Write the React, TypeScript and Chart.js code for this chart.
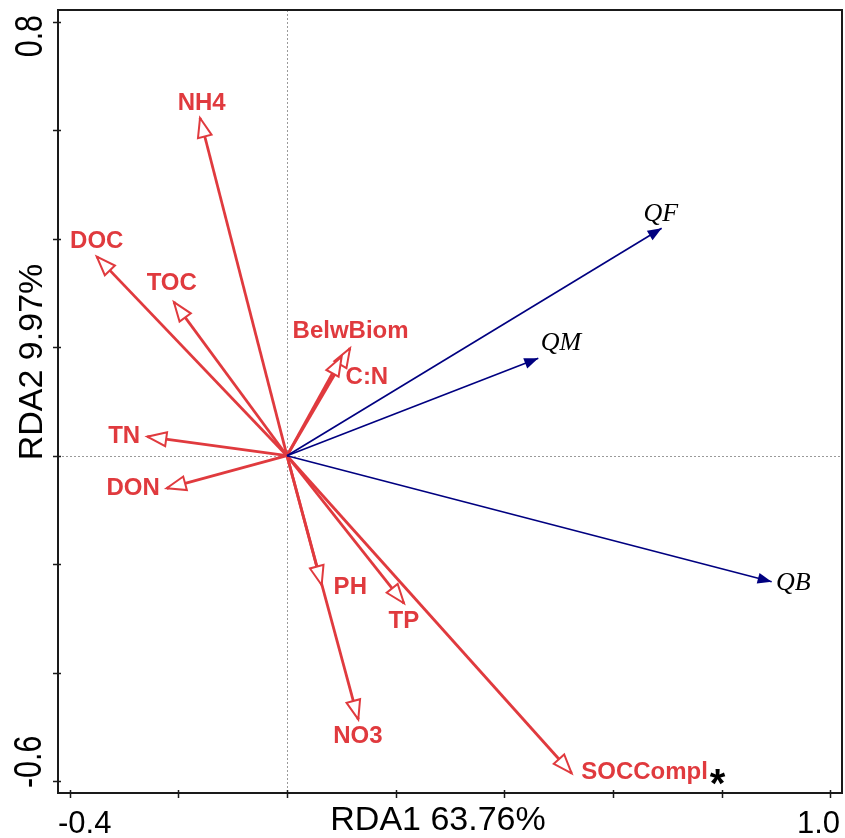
import React, { useEffect, useRef } from 'react';
import { Chart, registerables } from 'chart.js';

Chart.register(...registerables);

// ---- Data (RDA biplot scores) ----
const envNames = ['NH4', 'DOC', 'TOC', 'BelwBiom', 'C:N', 'TN', 'DON', 'PH', 'TP', 'NO3', 'SOCCompl'];
const envX = [-0.160, -0.350, -0.208, 0.116, 0.1006, -0.257, -0.2213, 0.0638, 0.2153, 0.1312, 0.5238];
const envY = [0.6225, 0.367, 0.283, 0.198, 0.1825, 0.035, -0.060, -0.2383, -0.272, -0.486, -0.5854];
const envLabelX = [-0.157, -0.350, -0.212, 0.117, 0.147, -0.2995, -0.283, 0.1165, 0.215, 0.1306, 0.658];
const envLabelY = [0.652, 0.3976, 0.319, 0.231, 0.146, 0.0367, -0.0586, -0.2407, -0.303, -0.515, -0.582];

const speciesNames = ['QF', 'QM', 'QB'];
const speciesX = [0.6894, 0.4624, 0.8918];
const speciesY = [0.4192, 0.1795, -0.2323];
const speciesLabelX = [0.688, 0.504, 0.9316];
const speciesLabelY = [0.449, 0.211, -0.232];

const markText = ['*'];
const markX = [0.792];
const markY = [-0.5895];

const xTickValues = [-0.4, -0.2, 0, 0.2, 0.4, 0.6, 0.8, 1.0];
const yTickValues = [-0.6, -0.4, -0.2, 0, 0.2, 0.4, 0.6, 0.8];
const xLabeledTicks = ['-0.4', '1.0'];
const yLabeledTicks = ['-0.6', '0.8'];

const xTitle = 'RDA1 63.76%';
const yTitle = 'RDA2 9.97%';

const xRange = [-0.4213, 1.0212];
const yRange = [-0.6217, 0.8216];

const RED = '#E03A3E';
const NAVY = '#000080';
const SANS = '"Liberation Sans", Arial, Helvetica, sans-serif';
const SERIF = '"Liberation Serif", "Times New Roman", Times, serif';

function drawHead(ctx: CanvasRenderingContext2D, x0: number, y0: number, x1: number, y1: number,
  len: number, hw: number, fill: string, stroke: string | null, lw: number) {
  const a = Math.atan2(y1 - y0, x1 - x0);
  const c = Math.cos(a), s = Math.sin(a);
  const bx = x1 - len * c, by = y1 - len * s;
  ctx.beginPath();
  ctx.moveTo(x1, y1);
  ctx.lineTo(bx + hw * s, by - hw * c);
  ctx.lineTo(bx - hw * s, by + hw * c);
  ctx.closePath();
  ctx.fillStyle = fill;
  ctx.fill();
  if (stroke) {
    ctx.strokeStyle = stroke;
    ctx.lineWidth = lw;
    ctx.lineJoin = 'miter';
    ctx.stroke();
  }
}

const decorPlugin = {
  id: 'rdaDecor',
  beforeDatasetsDraw(chart: any) {
    const { ctx, chartArea: ca, scales } = chart;
    const xs = scales.x, ys = scales.y;
    ctx.save();
    ctx.strokeStyle = '#9a9a9a';
    ctx.lineWidth = 1;
    ctx.setLineDash([2, 2]);
    const x0 = Math.round(xs.getPixelForValue(0)) + 0.5;
    const y0 = Math.round(ys.getPixelForValue(0)) + 0.5;
    ctx.beginPath();
    ctx.moveTo(x0, ca.top);
    ctx.lineTo(x0, ca.bottom);
    ctx.moveTo(ca.left, y0);
    ctx.lineTo(ca.right, y0);
    ctx.stroke();
    ctx.restore();
  },
  afterDatasetsDraw(chart: any) {
    const { ctx, chartArea: ca, scales } = chart;
    const xs = scales.x, ys = scales.y;
    ctx.save();
    // arrow heads
    chart.data.datasets.forEach((ds: any, i: number) => {
      const meta = chart.getDatasetMeta(i);
      const p0 = meta.data[0], p1 = meta.data[1];
      if (!p0 || !p1) return;
      if (ds.group === 'env') {
        drawHead(ctx, p0.x, p0.y, p1.x, p1.y, 19, 7, '#ffffff', RED, 2);
      }
    });
    chart.data.datasets.forEach((ds: any, i: number) => {
      const meta = chart.getDatasetMeta(i);
      const p0 = meta.data[0], p1 = meta.data[1];
      if (!p0 || !p1) return;
      if (ds.group === 'species') {
        drawHead(ctx, p0.x, p0.y, p1.x, p1.y, 14, 5.5, NAVY, null, 0);
      }
    });
    // labels
    ctx.textAlign = 'center';
    ctx.textBaseline = 'middle';
    ctx.fillStyle = RED;
    ctx.font = 'bold 24px ' + SANS;
    envNames.forEach((n, i) => {
      ctx.fillText(n, xs.getPixelForValue(envLabelX[i]), ys.getPixelForValue(envLabelY[i]) + 1);
    });
    ctx.fillStyle = '#000000';
    ctx.font = 'italic 26px ' + SERIF;
    speciesNames.forEach((n, i) => {
      ctx.fillText(n, xs.getPixelForValue(speciesLabelX[i]), ys.getPixelForValue(speciesLabelY[i]) + 2);
    });
    ctx.font = 'bold 40px ' + SANS;
    markText.forEach((t, i) => {
      ctx.fillText(t, xs.getPixelForValue(markX[i]), ys.getPixelForValue(markY[i]) + 10);
    });

    // box
    ctx.strokeStyle = '#1a1a1a';
    ctx.lineWidth = 2;
    ctx.strokeRect(ca.left, ca.top, ca.right - ca.left, ca.bottom - ca.top);
    // ticks
    ctx.lineWidth = 1.5;
    ctx.beginPath();
    xTickValues.forEach((v) => {
      const px = Math.round(xs.getPixelForValue(v)) + 0.5;
      ctx.moveTo(px, ca.bottom - 3);
      ctx.lineTo(px, ca.bottom + 5);
    });
    yTickValues.forEach((v) => {
      const py = Math.round(ys.getPixelForValue(v)) + 0.5;
      ctx.moveTo(ca.left - 5, py);
      ctx.lineTo(ca.left + 3, py);
    });
    ctx.stroke();

    // x tick labels (inner aligned to box edges)
    ctx.fillStyle = '#000000';
    ctx.font = '31px ' + SANS;
    ctx.textBaseline = 'alphabetic';
    ctx.textAlign = 'left';
    ctx.fillText(xLabeledTicks[0], ca.left, ca.bottom + 40);
    ctx.textAlign = 'right';
    ctx.fillText(xLabeledTicks[1], ca.right - 2, ca.bottom + 40);

    // y tick labels (rotated)
    const yTickFont = '38px ' + SANS;
    const drawRot = (text: string, bx: number, by: number, align: CanvasTextAlign, font: string, sx: number) => {
      ctx.save();
      ctx.translate(bx, by);
      ctx.rotate(-Math.PI / 2);
      ctx.scale(sx, 1);
      ctx.font = font;
      ctx.textAlign = align;
      ctx.textBaseline = 'alphabetic';
      ctx.fillText(text, 0, 0);
      ctx.restore();
    };
    drawRot(yLabeledTicks[1], ca.left - 16, ca.top + 5, 'right', yTickFont, 0.8);
    drawRot(yLabeledTicks[0], ca.left - 17, ca.bottom - 5, 'left', yTickFont, 0.8);

    // axis titles
    ctx.font = '34px ' + SANS;
    ctx.textAlign = 'center';
    ctx.textBaseline = 'alphabetic';
    ctx.fillText(xTitle, ca.left + 380, ca.bottom + 37);
    drawRot(yTitle, ca.left - 16, ca.top + 352, 'center', '34px ' + SANS, 1);
    ctx.restore();
  },
};

export default function App() {
  const ref = useRef<HTMLCanvasElement | null>(null);
  useEffect(() => {
    if (!ref.current) return;
    const datasets: any[] = [];
    envNames.forEach((n, i) => {
      datasets.push({
        label: n,
        group: 'env',
        data: [{ x: 0, y: 0 }, { x: envX[i], y: envY[i] }],
        showLine: true,
        borderColor: RED,
        backgroundColor: RED,
        borderWidth: 2.8,
        pointRadius: 0,
        pointHoverRadius: 0,
        order: 1,
      });
    });
    speciesNames.forEach((n, i) => {
      datasets.push({
        label: n,
        group: 'species',
        data: [{ x: 0, y: 0 }, { x: speciesX[i], y: speciesY[i] }],
        showLine: true,
        borderColor: NAVY,
        backgroundColor: NAVY,
        borderWidth: 1.6,
        pointRadius: 0,
        pointHoverRadius: 0,
        order: 0,
      });
    });
    const chart = new Chart(ref.current, {
      type: 'scatter',
      data: { datasets },
      options: {
        responsive: false,
        animation: false,
        devicePixelRatio: 1,
        layout: { padding: { left: 58, top: 10, right: 3, bottom: 45 } },
        plugins: { legend: { display: false }, tooltip: { enabled: false } },
        events: [],
        scales: {
          x: { type: 'linear', min: xRange[0], max: xRange[1], display: false },
          y: { type: 'linear', min: yRange[0], max: yRange[1], display: false },
        },
      },
      plugins: [decorPlugin],
    } as any);
    return () => chart.destroy();
  }, []);
  return (
    <div style={{ position: 'absolute', left: 0, top: 0, width: 845, height: 838, background: '#ffffff' }}>
      <canvas ref={ref} width={845} height={838} />
    </div>
  );
}
